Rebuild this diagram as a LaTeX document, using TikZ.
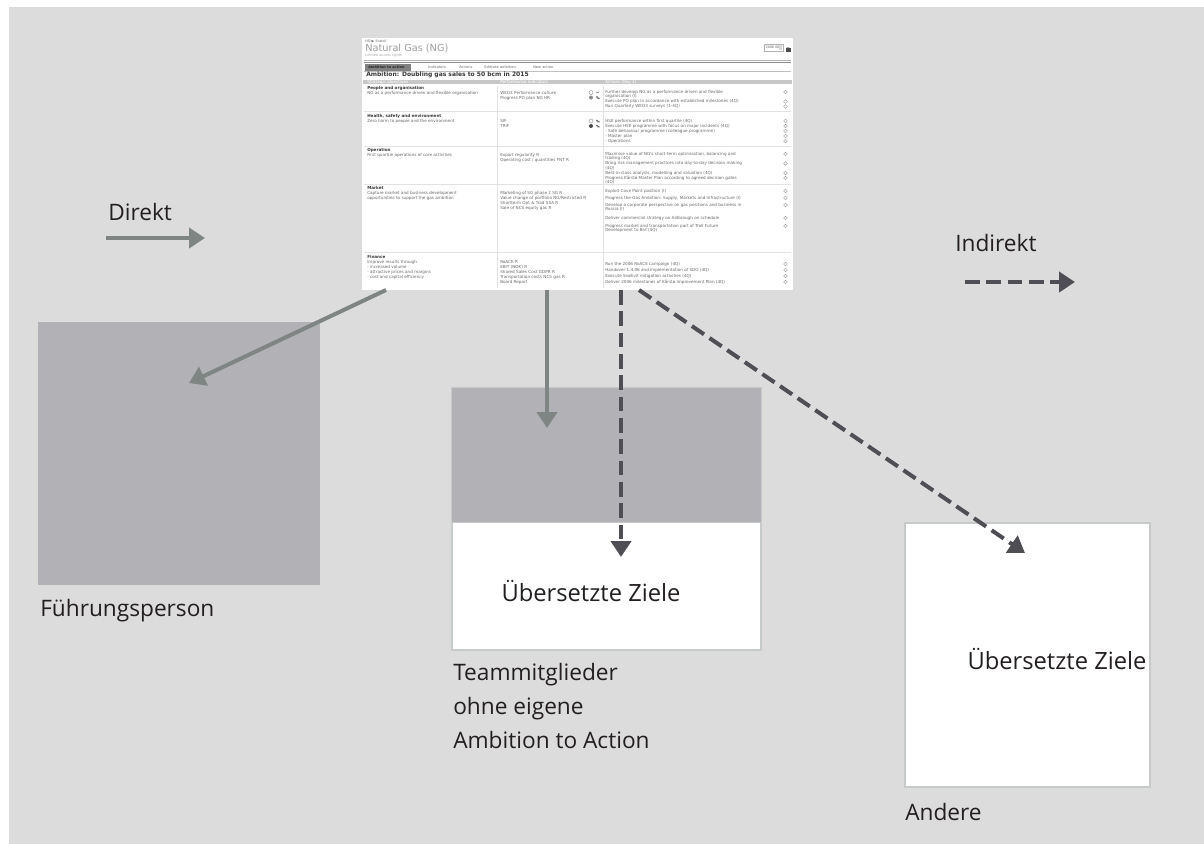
\documentclass[tikz,border=0pt]{standalone}
\usepackage{fontspec}
\setmainfont{Open Sans}
\newfontfamily\uifont{DejaVu Sans}
\usetikzlibrary{arrows.meta,fit}
\definecolor{bg}{HTML}{DCDCDC}
\definecolor{boxgray}{HTML}{B2B1B6}
\definecolor{solidarr}{HTML}{7E8583}
\definecolor{dasharr}{HTML}{4E4E54}
\definecolor{txt}{HTML}{231F20}
\definecolor{edge}{HTML}{C6CAC8}
\definecolor{uitext}{HTML}{6A6A6A}
\definecolor{uihead}{HTML}{383838}
\definecolor{uiline}{HTML}{E2E2E2}
\begin{document}
\begin{tikzpicture}[x=0.75pt,y=-0.75pt,
  lbl/.style={font=\fontsize{17}{20}\selectfont, text=txt, inner sep=0pt, anchor=base west},
  goal/.style={font=\fontsize{17.8}{20}\selectfont, text=txt, inner sep=0pt, anchor=center},
  darkbox/.style={fill=boxgray, draw=none, inner sep=0pt},
  whitebox/.style={fill=white, draw=edge, line width=0.8pt, inner sep=0pt},
  direct/.style={draw=solidarr, line width=3pt, -{Triangle[length=12pt,width=15pt]}},
  indirect/.style={draw=dasharr, line width=3pt, dash pattern=on 11pt off 5pt, -{Triangle[length=12pt,width=15pt]}},
  ui/.style={font=\uifont\fontsize{3.1}{3.6}\selectfont, text=uitext, inner sep=0pt, anchor=west},
  uib/.style={font=\uifont\bfseries\fontsize{3.1}{3.6}\selectfont, text=uihead, inner sep=0pt, anchor=west},
  stat/.style={draw=uitext!70, line width=0.3pt, fill=white, circle, minimum size=2.8pt, inner sep=0pt},
  ]
% background
\useasboundingbox (0,0) rectangle (1204,844);
\fill[white] (0,0) rectangle (1204,844);
\node[fit={(9,7) (1204,844)}, fill=bg, inner sep=0pt] (canvas) {};

% ---------------- screenshot ----------------
\node[fit={(362,38) (793,290)}, fill=white, inner sep=0pt] (shot) {};
\node[ui, font=\uifont\fontsize{2.6}{3}\selectfont] (crumb) at (365,41) {HQ ▶ Statoil};
\node[ui, font=\uifont\fontsize{7.3}{8}\selectfont, text=black!38] (title) at (365,48.5) {Natural Gas (NG)};
\node[ui, font=\uifont\fontsize{2.6}{3}\selectfont, text=black!35] (rights) at (365,56) {Limited access rights};
\node[fit={(764,44) (783,51)}, draw=black!30, line width=0.3pt, inner sep=0pt] (datebox) {};
\node[ui, font=\uifont\fontsize{2.5}{3}\selectfont] (date) at (765.5,47.5) {2006 06};
\node[fit={(778.5,45) (782.3,50)}, fill=black!15, inner sep=0pt] (dd) {};
\node[fit={(785.5,47.5) (790.5,51.5)}, fill=black!70, inner sep=0pt] (lock) {};
\draw[black!70, line width=0.6pt] (786.8,47.5) arc[start angle=180, end angle=0, radius=1.2];
\draw[black!30, line width=0.5pt] (364,60.4) -- (791,60.4);
\draw[black!45, line width=0.7pt] (364,62.2) -- (791,62.2);
% tabs
\node[fit={(365,64) (411,70.5)}, fill=black!50, inner sep=0pt] (tab1) {};
\node[uib, text=black!85, font=\uifont\bfseries\fontsize{2.6}{3}\selectfont] (tab1t) at (368,67.3) {Ambition to action};
\node[ui, font=\uifont\fontsize{2.7}{3}\selectfont] (tab2) at (428,67.3) {Indicators};
\node[ui, font=\uifont\fontsize{2.7}{3}\selectfont] (tab3) at (459,67.3) {Actions};
\node[ui, font=\uifont\fontsize{2.7}{3}\selectfont] (tab4) at (484,67.3) {Edit/see ambition};
\node[ui, font=\uifont\fontsize{2.7}{3}\selectfont] (tab5) at (533,67.3) {New action};
\draw[black!25, line width=0.4pt] (364,71.3) -- (791,71.3);
\node[uib, font=\uifont\bfseries\fontsize{4.5}{5}\selectfont] (amb) at (366,75.3) {Ambition: Doubling gas sales to 50 bcm in 2015};
% header bar
\node[fit={(363,79.5) (792,84.3)}, fill=black!22, inner sep=0pt] (hbar) {};
\node[ui, text=white] (h1) at (367,81.9) {Strategic objectives};
\node[ui, text=white] (h2) at (500,81.9) {Performance indicators};
\node[ui, text=white] (h3) at (605,81.9) {Actions (Key 1)};
% separators
\foreach \yy in {111,146,184.5,252}
  \draw[uiline, line width=0.4pt] (364,\yy) -- (791,\yy);
\draw[uiline, line width=0.4pt] (497,86) -- (497,288);
\draw[uiline, line width=0.4pt] (603,86) -- (603,288);
% section headings
\node[uib] (sec1) at (367,88) {People and organisation};
\node[uib] (sec2) at (367,116) {Health, safety and environment};
\node[uib] (sec3) at (367,150) {Operation};
\node[uib] (sec4) at (367,188) {Market};
\node[uib] (sec5) at (367,256.5) {Finance};
% objectives column
\foreach \yy/\tt [count=\i] in {93/{NG as a performance driven and flexible organisation},
  121/{Zero harm to people and the environment},
  155/{First quartile operations of core activities},
  193/{Capture market and business development},
  198/{opportunities to support the gas ambition},
  262/{Improve results through},
  267/{- increased volume},
  272/{- attractive prices and margins},
  277/{- cost and capital efficiency}}
  \node[ui] (obj\i) at (367,\yy) {\tt};
% indicators column
\foreach \yy/\tt [count=\i] in {93/{WEO3 Performance culture},
  98/{Progress PO plan NG HR},
  121/{SIF}, 126/{TRIF},
  155/{Export regularity R},
  160/{Operating cost / quantities FNT R},
  193/{Marketing of SG phase 2 SG R},
  198/{Value change of portfolio NG/Restricted R},
  203/{Shortterm Opt \& Trad SSA R},
  208/{Sale of NCS equity gas R},
  262/{RoACE R},
  267/{EBIT (NOK) R},
  272/{Shared Sales Cost GDPR R},
  277/{Transportation costs NCS gas R},
  282.5/{Board Report}}
  \node[ui] (ind\i) at (500,\yy) {\tt};
% actions column
\foreach \yy/\tt [count=\i] in {92/{Further develop NG as a performance driven and flexible},
  96.5/{organisation (I)},
  101.5/{Execute PO plan in accordance with established milestones (4Q)},
  106.5/{Run Quarterly WEO3 surveys (1-4Q)},
  121/{HSE performance within first quartile (4Q)},
  126/{Execute HSE programme with focus on major incidents (4Q)},
  131/{- Safe behaviour programme (colleague programme)},
  136/{- Master plan},
  141/{- Operations},
  154/{Maximise value of NG's short-term optimisation, balancing and},
  158.5/{trading (4Q)},
  163.5/{Bring risk management practices into day-to-day decision making},
  168/{(4Q)},
  173/{Best-in-class analysis, modelling and valuation (4Q)},
  178/{Progress Kårstø Master Plan according to agreed decision gates},
  182.5/{(4Q)},
  191/{Exploit Cove Point position (I)},
  198/{Progress the Gas Ambition: Supply, Markets and Infrastructure (I)},
  205/{Develop a corporate perspective on gas positions and business in},
  209.5/{Russia (I)},
  218/{Deliver commercial strategy on Aldbrough on schedule},
  226/{Progress market and transportation part of Troll Future},
  230.5/{Development to Bnf (4Q)},
  264/{Run the 2006 RoACE campaign (4Q)},
  270/{Handover 1.4.06 and implementation of SDO (4Q)},
  276/{Execute Snøhvit mitigation activities (4Q)},
  282/{Deliver 2006 milestones of Kårstø Improvement Plan (4Q)}}
  \node[ui] (act\i) at (605,\yy) {\tt};
% status circles
\foreach \yy [count=\i] in {92,101.5,106.5,121,126,131,136,141,154,163.5,173,178,191,198,205,218,226,264,270,276,282}
  \node[stat] (st\i) at (785.5,\yy) {};
% traffic icons
\node[circle, draw=black!45, line width=0.3pt, minimum size=3pt, inner sep=0pt] (tl1) at (591,92.5) {};
\node[circle, fill=black!45, minimum size=3pt, inner sep=0pt] (tl2) at (591,97.5) {};
\node[circle, draw=black!45, line width=0.3pt, minimum size=3pt, inner sep=0pt] (tl3) at (591,121) {};
\node[circle, fill=black!70, minimum size=3pt, inner sep=0pt] (tl4) at (591,126) {};
\draw[black!40, line width=0.4pt] (596,92.5) -- (599,92.5);
\foreach \yy in {97.5,121,126}
  \fill[black!55] (596,\yy-1.1) rectangle (598,\yy+0.2) (597.3,\yy) rectangle (599.5,\yy+1.3);

% ---------------- boxes ----------------
\node[fit={(38,322) (320,585)}, darkbox] (leader) {};
\node[fit={(452,388) (761,650)}, whitebox] (team) {};
\node[fit={(452,388) (761,522)}, darkbox] (teamtop) {};
\draw[edge, line width=0.8pt] (teamtop.south west) -- (teamtop.south east);
\node[fit={(905,523) (1150,787)}, whitebox] (other) {};

\node[goal] (goal1) at (591,591) {Übersetzte Ziele};
\node[goal] (goal2) at (1057,659) {Übersetzte Ziele};
\node[lbl] (lead) at (40,616) {Führungsperson};
\node[lbl] (tm1) at (453,680) {Teammitglieder};
\node[lbl] (tm2) at (453,714) {ohne eigene};
\node[lbl] (tm3) at (453,748) {Ambition to Action};
\node[lbl] (andere) at (905,820) {Andere};
\node[lbl] (direkt) at (108,220) {Direkt};
\node[lbl] (indirekt) at (955,251) {Indirekt};

% ---------------- connectors ----------------
\coordinate (s1) at (386,290);
\coordinate (t1) at (189,383);
\coordinate (s2) at (547,290);
\coordinate (t2) at (547,428);
\coordinate (s3) at (621,290);
\coordinate (t3) at (621,557);
\coordinate (s4) at (639,290);
\coordinate (t4) at (1025,553);
\coordinate (d1) at (106,238);
\coordinate (d2) at (205,238);
\coordinate (i1) at (965,282);
\coordinate (i2) at (1075,282);
\draw[direct] (s1) -- (t1);
\draw[direct] (s2) -- (t2);
\draw[indirect] (s3) -- (t3);
\draw[indirect] (s4) -- (t4);
\draw[direct] (d1) -- (d2);
\draw[indirect] (i1) -- (i2);
\end{tikzpicture}
\end{document}
